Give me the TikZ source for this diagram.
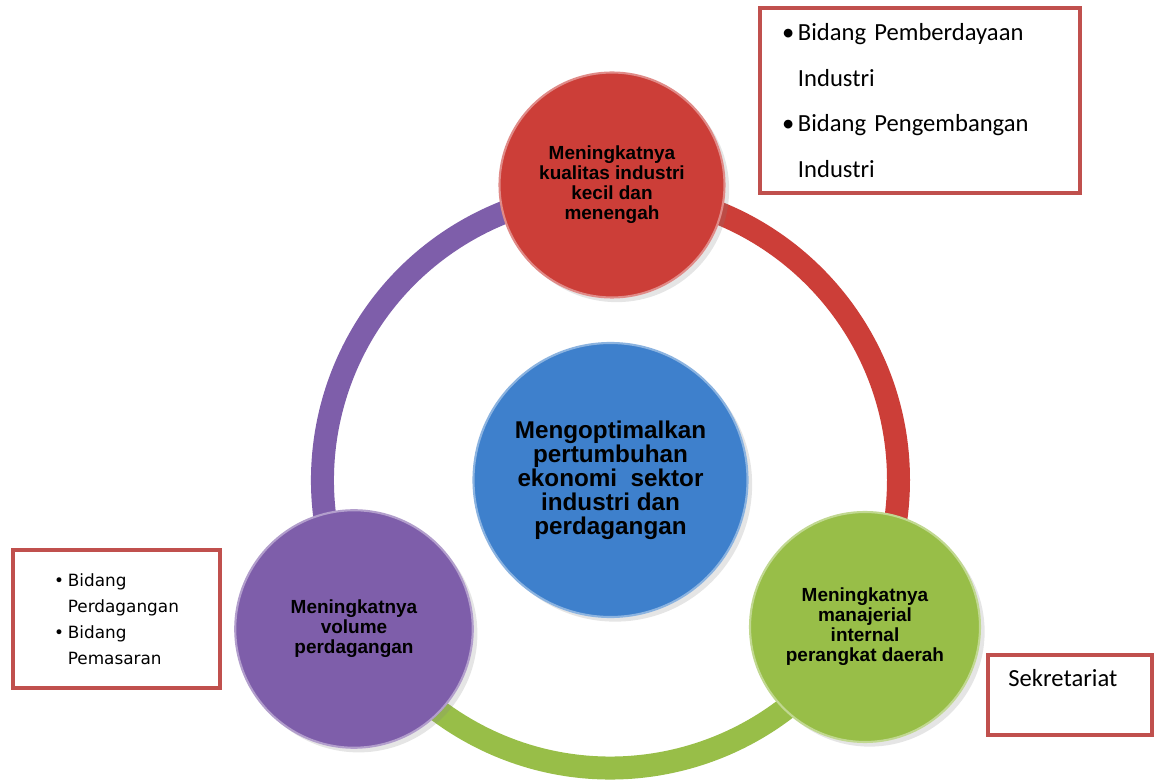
\documentclass[tikz,border=0pt]{standalone}
\usepackage{fontspec}
\setmainfont{Liberation Sans}
\newfontfamily\boxfont{Carlito}
\newfontfamily\listfont{DejaVu Sans}
\usetikzlibrary{shadows}

\definecolor{goalblue}{RGB}{62,128,204}
\definecolor{goalred}{RGB}{204,62,56}
\definecolor{goalgreen}{RGB}{152,190,72}
\definecolor{goalpurple}{RGB}{126,94,170}
\definecolor{boxred}{RGB}{192,80,77}

% bullet and hanging indent for the lists in the boxes
\newcommand{\bulitem}{\makebox[0.65em][l]{\textbullet}}
\newcommand{\bulhang}{\hspace*{0.65em}}

\begin{document}
\begin{tikzpicture}[
      goal/.style={circle, draw=#1!60!white, line width=1.2pt, fill=#1, align=center, inner sep=0pt,
        font=\bfseries\fontsize{10.8}{11.4}\selectfont, drop shadow={opacity=0.2}},
      ring/.style={draw=#1, line width=0.46cm},
      infobox/.style={draw=boxred, line width=2.2pt, fill=white}
    ]
    \useasboundingbox[fill=white] (0,0) rectangle (23.14,15.64);
    \coordinate (hub) at (12.21,6.04);

    % the ring, one arc per goal
    \draw[ring=goalred] (hub) ++(90:5.76) arc (90:-30:5.76);
    \draw[ring=goalgreen] (hub) ++(-30:5.76) arc (-30:-150:5.76);
    \draw[ring=goalpurple] (hub) ++(210:5.76) arc (210:90:5.76);

    \node[goal=goalblue, minimum size=5.48cm, font=\bfseries\fontsize{13.8}{13.6}\selectfont] (core) at (hub)
      {Mengoptimalkan\\pertumbuhan\\ekonomi~ sektor\\industri dan\\perdagangan};
    \node[goal=goalred, minimum size=4.5cm] (industri) at (12.24,11.94)
      {Meningkatnya\\kualitas industri\\kecil dan\\menengah};
    \node[goal=goalgreen, minimum size=4.6cm] (manajemen) at (17.30,3.10)
      {Meningkatnya\\manajerial\\internal\\perangkat daerah};
    \node[goal=goalpurple, minimum size=4.75cm] (dagang) at (7.08,3.06)
      {Meningkatnya\\volume\\perdagangan};

    % units responsible for each goal
    \node[infobox, minimum width=6.4cm, minimum height=3.7cm, text width=5.52cm, inner xsep=0.44cm, align=left,
      font=\boxfont\fontsize{14}{26}\selectfont] (boxind) at (18.4,13.63)
      {\bulitem Bidang Pemberdayaan\\ \bulhang Industri\\ \bulitem Bidang Pengembangan\\ \bulhang Industri};
    \node[infobox, minimum width=4.14cm, minimum height=2.76cm, align=left,
      font=\listfont\fontsize{9.6}{14.7}\selectfont] (boxdagang) at (2.33,3.26)
      {\bulitem\,Bidang\\ \bulhang\,Perdagangan\\ \bulitem\,Bidang\\ \bulhang\,Pemasaran};
    \node[infobox, minimum width=3.28cm, minimum height=1.6cm] (boxsek) at (21.40,1.74) {};
    \node[anchor=base west, inner sep=0pt, font=\boxfont\fontsize{14}{16}\selectfont] (sek)
      at ([xshift=0.44cm, yshift=-0.66cm]boxsek.north west) {Sekretariat};
  \end{tikzpicture}
\end{document}
